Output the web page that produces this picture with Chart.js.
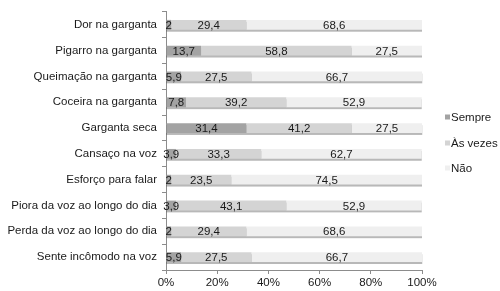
<!DOCTYPE html>
<html>
<head>
<meta charset="utf-8">
<script src="https://cdn.jsdelivr.net/npm/chart.js@4/dist/chart.umd.min.js"></script>
<style>
  html, body { margin: 0; padding: 0; background: #fff; }
  #wrap { width: 500px; height: 291px; }
</style>
</head>
<body>
<div id="wrap"><canvas id="c" width="500" height="291"></canvas></div>
<script>
const categories = ['Dor na garganta','Pigarro na garganta','Queimação na garganta','Coceira na garganta','Garganta seca','Cansaço na voz','Esforço para falar','Piora da voz ao longo do dia','Perda da voz ao longo do dia','Sente incômodo na voz'];
const sempre = [2, 13.7, 5.9, 7.8, 31.4, 3.9, 2, 3.9, 2, 5.9];
const asVezes = [29.4, 58.8, 27.5, 39.2, 41.2, 33.3, 23.5, 43.1, 29.4, 27.5];
const nao = [68.6, 27.5, 66.7, 52.9, 27.5, 62.7, 74.5, 52.9, 68.6, 66.7];
const seriesNames = ['Sempre', 'Às vezes', 'Não'];
const seriesColors = ['#a3a3a3', '#d4d4d4', '#efefef'];
const xTicks = [0, 20, 40, 60, 80, 100];

const FONT = '"Liberation Sans", Arial, sans-serif';

// grey strip under each whole stacked bar (spreadsheet-style shadow)
const shadowPlugin = {
  id: 'barShadow',
  beforeDatasetsDraw(chart) {
    const ctx = chart.ctx;
    const last = chart.getDatasetMeta(chart.data.datasets.length - 1);
    const first = chart.getDatasetMeta(0);
    ctx.save();
    ctx.fillStyle = 'rgba(0,0,0,0.28)';
    last.data.forEach((bar, i) => {
      const x0 = first.data[i].base;
      const h = bar.height;
      ctx.fillRect(x0, bar.y - h / 2 + 2, bar.x - x0, h);
    });
    ctx.restore();
  }
};

// value labels centred in each segment + legend on the right
const labelPlugin = {
  id: 'labels',
  afterDraw(chart) {
    const ctx = chart.ctx;
    ctx.save();
    ctx.font = '11.5px ' + FONT;
    ctx.fillStyle = '#1a1a1a';
    ctx.textAlign = 'center';
    ctx.textBaseline = 'middle';
    chart.data.datasets.forEach((ds, di) => {
      const meta = chart.getDatasetMeta(di);
      meta.data.forEach((bar, i) => {
        const v = ds.data[i];
        const cx = (bar.x + bar.base) / 2;
        ctx.fillText(String(v).replace('.', ','), cx, bar.y + 1);
      });
    });

    // legend
    const rows = [117, 143, 168];
    ctx.textAlign = 'left';
    seriesNames.forEach((name, i) => {
      ctx.fillStyle = seriesColors[i];
      ctx.fillRect(445, rows[i] - 2.5, 5, 5);
      ctx.fillStyle = '#1a1a1a';
      ctx.fillText(name, 451, rows[i] + 1);
    });
    ctx.restore();
  }
};

const dataSets = [sempre, asVezes, nao].map((arr, i) => ({
  label: seriesNames[i],
  data: arr,
  backgroundColor: seriesColors[i],
  borderWidth: 0,
  categoryPercentage: 1,
  barPercentage: 0.38
}));

new Chart(document.getElementById('c'), {
  type: 'bar',
  data: { labels: categories, datasets: dataSets },
  options: {
    indexAxis: 'y',
    responsive: false,
    devicePixelRatio: 1,
    animation: false,
    layout: { padding: { top: 3, right: 78, left: 0, bottom: 0 } },
    plugins: {
      legend: { display: false },
      tooltip: { enabled: false }
    },
    scales: {
      x: {
        stacked: true,
        min: 0,
        max: 100,
        afterBuildTicks(scale) {
          scale.ticks = xTicks.map(v => ({ value: v }));
        },
        afterFit(scale) { scale.height = 21; },
        border: { display: true, color: '#8c8c8c', width: 1 },
        grid: { drawOnChartArea: false, drawTicks: true, tickLength: 4, color: '#8c8c8c' },
        ticks: {
          font: { size: 11.5, family: FONT },
          color: '#1a1a1a',
          padding: 2,
          maxRotation: 0,
          callback: v => v + '%'
        }
      },
      y: {
        stacked: true,
        afterFit(scale) { scale.width = 166; },
        border: { display: true, color: '#8c8c8c', width: 1 },
        grid: { drawOnChartArea: false, drawTicks: true, tickLength: 4, color: '#8c8c8c', offset: true },
        ticks: {
          font: { size: 11.5, family: FONT },
          color: '#1a1a1a',
          padding: 5,
          autoSkip: false
        }
      }
    }
  },
  plugins: [shadowPlugin, labelPlugin]
});
</script>
</body>
</html>
